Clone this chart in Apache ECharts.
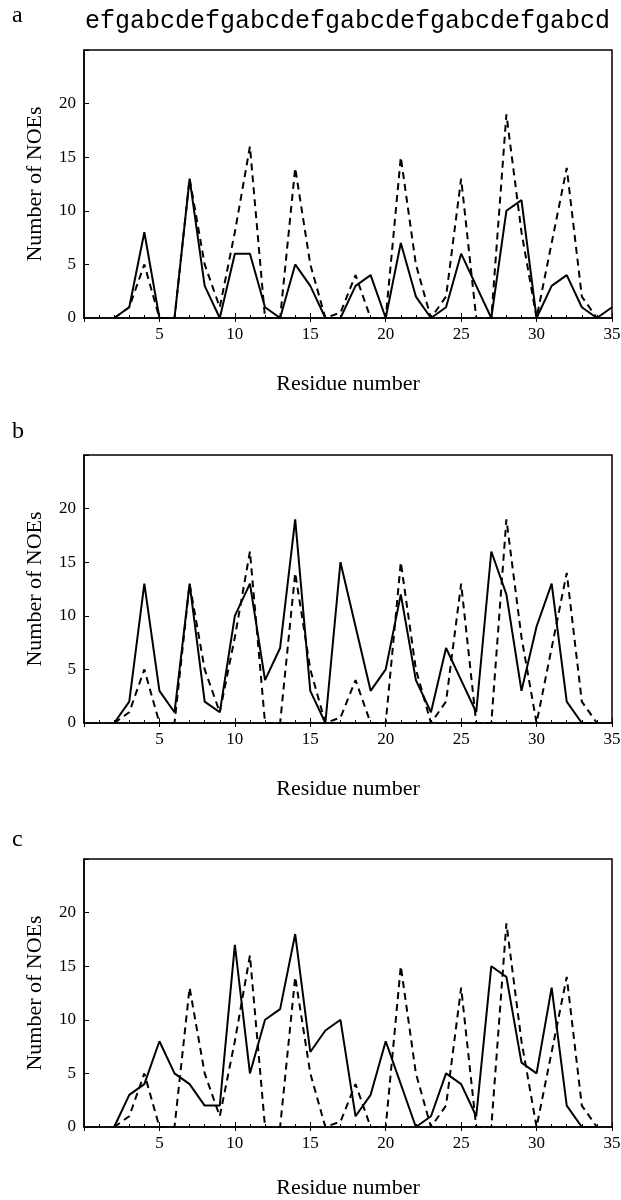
<!DOCTYPE html>
<html><head><meta charset="utf-8">
<script src="https://cdn.jsdelivr.net/npm/echarts@6/dist/echarts.min.js"></script>
<style>html,body{margin:0;padding:0;background:#fff}#c{width:621px;height:1200px}</style>
</head><body><div id="c"></div>
<script>
// Residue numbers 2..35
const residues = [2,3,4,5,6,7,8,9,10,11,12,13,14,15,16,17,18,19,20,21,22,23,24,25,26,27,28,29,30,31,32,33,34,35];
// Experimental NOEs (dashed, same in all panels)
const dashed = [0,1,5,0,0,13,5,1,8,16,0,0,14,5,0,0.5,4,0,0,15,5,0,2,13,0,0,19,8,0,7,14,2,0,null];
// Panel a solid
const solidA = [0,1,8,0,0,13,3,0,6,6,1,0,5,3,0,0,3,4,0,7,2,0,1,6,3,0,10,11,0,3,4,1,0,1];
// Panel b solid
const solidB = [0,2,13,3,1,13,2,1,10,13,4,7,19,3,0,15,9,3,5,12,4,1,7,4,1,16,12,3,9,13,2,0,0,null];
// Panel c solid
const solidC = [0,3,4,8,5,4,2,2,17,5,10,11,18,7,9,10,1,3,8,4,0,1,5,4,1,15,14,6,5,13,2,0,0,null];
const panelLabels = ['a','b','c'];
const heptad = 'efgabcdefgabcdefgabcdefgabcdefgabcd';
const yTicks = [0,5,10,15,20];

const tops = [50, 455, 859];
const nameGaps = [55, 55, 50];
const H = 268;
const font = 'Liberation Serif';
const grids = [], xAxes = [], yAxes = [], series = [];
const sets = [solidA, solidB, solidC];
tops.forEach((t, i) => {
  grids.push({left: 84, right: 9, top: t, height: H, show: true, borderColor: '#000', borderWidth: 1.5,
    containLabel: false, outerBoundsMode: 'none'});
  xAxes.push({type: 'value', gridIndex: i, min: 0, max: 35, interval: 5,
    axisLine: {show: true, onZero: false, lineStyle: {color: '#000', width: 1.5}},
    axisTick: {show: true, inside: true, length: 5, lineStyle: {color: '#000'}},
    minorTick: {show: true, splitNumber: 5, length: 3, lineStyle: {color: '#000'}},
    splitLine: {show: false},
    axisLabel: {color: '#000', fontFamily: font, fontSize: 17, margin: 8,
      formatter: v => (v === 0 ? '' : String(v))},
    name: 'Residue number', nameLocation: 'middle', nameGap: nameGaps[i],
    nameTextStyle: {color: '#000', fontFamily: font, fontSize: 22}});
  xAxes.push({type: 'value', gridIndex: i, position: 'top', min: 0, max: 35, interval: 5,
    axisLine: {show: false}, axisTick: {show: true, inside: true, length: 4, lineStyle: {color: '#000'}},
    axisLabel: {show: false}, splitLine: {show: false}});
  yAxes.push({type: 'value', gridIndex: i, min: 0, max: 25, interval: 5,
    axisLine: {show: true, lineStyle: {color: '#000', width: 1.5}},
    axisTick: {show: true, inside: true, length: 5, lineStyle: {color: '#000'}},
    splitLine: {show: false},
    axisLabel: {color: '#000', fontFamily: font, fontSize: 17, margin: 8,
      formatter: v => (yTicks.includes(v) ? String(v) : '')},
    name: 'Number of NOEs', nameLocation: 'middle', nameGap: 38, nameRotate: 90,
    nameTextStyle: {color: '#000', fontFamily: font, fontSize: 22}});
  series.push({type: 'line', xAxisIndex: i * 2, yAxisIndex: i, showSymbol: false, symbol: 'none',
    data: residues.map((r, k) => [r, dashed[k]]),
    lineStyle: {color: '#000', width: 2, type: [7, 5]}, connectNulls: false});
  series.push({type: 'line', xAxisIndex: i * 2, yAxisIndex: i, showSymbol: false, symbol: 'none',
    data: residues.map((r, k) => [r, sets[i][k]]),
    lineStyle: {color: '#000', width: 2, type: 'solid'}});
});

const graphic = [];
const labelY = [16, 432, 840];
panelLabels.forEach((l, i) => graphic.push({type: 'text', left: 12, top: labelY[i] - 12,
  style: {text: l, font: '24px "Liberation Serif"', fill: '#000'}}));

const chart = echarts.init(document.getElementById('c'), null, {renderer: 'canvas'});
chart.setOption({
  animation: false,
  grid: grids, xAxis: xAxes, yAxis: yAxes, series: series,
  graphic: graphic,
  title: {text: heptad, left: 80, top: 4, textStyle: {fontFamily: 'Liberation Mono', fontSize: 25, fontWeight: 'normal', color: '#000'}}
});
</script></body></html>
